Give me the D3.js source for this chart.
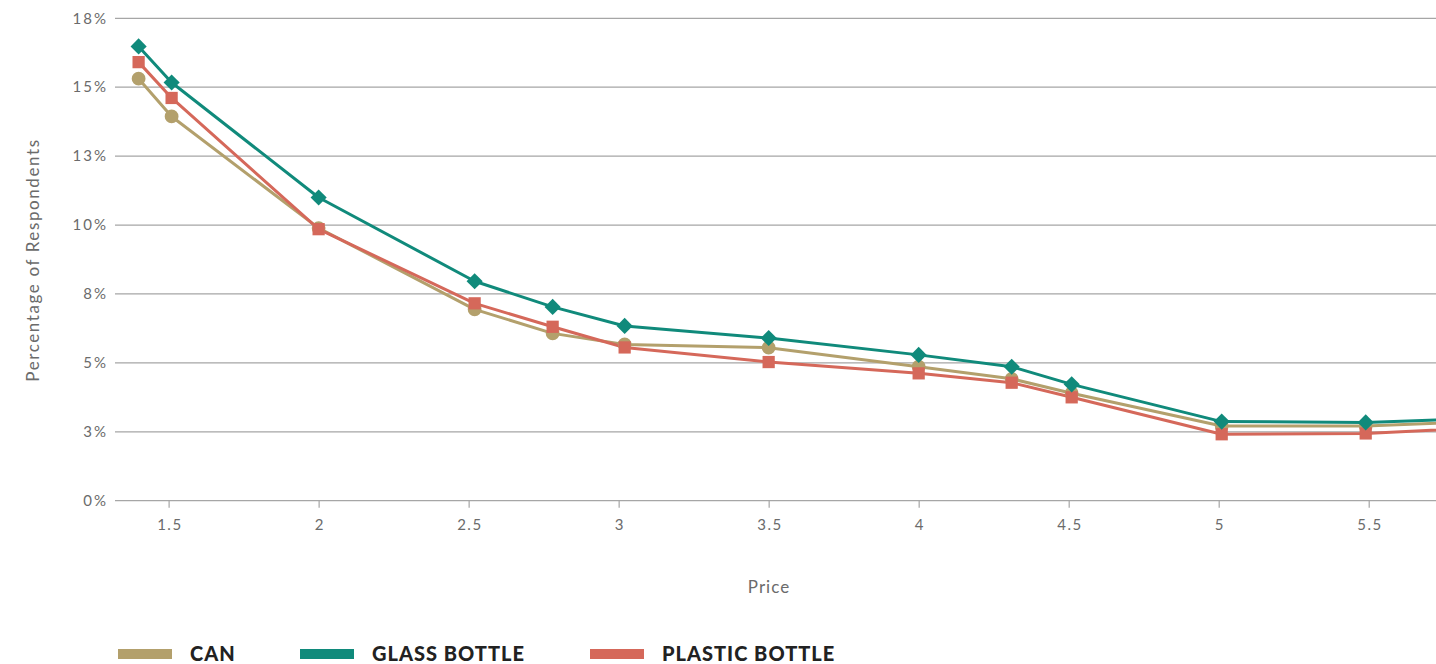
<!DOCTYPE html>
<html>
<head>
<meta charset="utf-8">
<script src="https://cdn.jsdelivr.net/npm/d3@7"></script>
<style>
  html, body { margin: 0; padding: 0; background: #fff; overflow: hidden; }
  svg { display: block; }
</style>
</head>
<body>
<svg id="chart" width="1436" height="664"></svg>
<script>
// ---- Data ----
const prices = [1.4, 1.51, 2.0, 2.52, 2.78, 3.02, 3.5, 4.0, 4.31, 4.51, 5.01, 5.49, 6.0];
const canValues     = [15.31, 13.94, 9.89, 6.94, 6.07, 5.67, 5.55, 4.86, 4.42, 3.90, 2.71, 2.71, 2.93];
const glassValues   = [16.48, 15.17, 11.00, 7.96, 7.03, 6.34, 5.90, 5.29, 4.86, 4.22, 2.87, 2.84, 3.04];
const plasticValues = [15.91, 14.61, 9.85, 7.16, 6.31, 5.56, 5.03, 4.62, 4.28, 3.75, 2.41, 2.44, 2.71];
const seriesNames = ["CAN", "GLASS BOTTLE", "PLASTIC BOTTLE"];
const seriesColors = ["#B3A06C", "#108A7B", "#D5685A"];
const seriesShapes = ["circle", "diamond", "square"];
const xTicks = [1.5, 2, 2.5, 3, 3.5, 4, 4.5, 5, 5.5];
const yTicks = [0, 2.5, 5, 7.5, 10, 12.5, 15, 17.5];

const seriesValues = [canValues, glassValues, plasticValues];

// ---- Layout ----
const svg = d3.select("#chart");
const plotLeft = 115, plotRight = 1436, plotTop = 18.3, plotBottom = 500.7;

const x = d3.scaleLinear().domain([1.3213, 5.7243]).range([plotLeft, plotRight]);
const y = d3.scaleLinear().domain([0, 17.5]).range([plotBottom, plotTop]);

const font = "Lato, 'Open Sans', sans-serif";

// gridlines
svg.append("g").selectAll("line").data(yTicks).join("line")
  .attr("x1", plotLeft).attr("x2", plotRight + 10)
  .attr("y1", d => y(d)).attr("y2", d => y(d))
  .attr("stroke", "#a6a6a6").attr("stroke-width", 1.2);

// y labels
svg.append("g").selectAll("text").data(yTicks).join("text")
  .attr("x", 108).attr("y", d => y(d)).attr("dy", "0.35em")
  .attr("text-anchor", "end")
  .attr("font-family", font).attr("font-size", 15).attr("letter-spacing", 2)
  .attr("fill", "#6b6b6b")
  .text(d => Math.round(d) + "%");

// x axis
const xAxis = d3.axisBottom(x).tickValues(xTicks).tickSize(7).tickPadding(12)
  .tickFormat(d => d3.format("")(d));
const gx = svg.append("g").attr("transform", `translate(0,${plotBottom})`).call(xAxis);
gx.select(".domain").remove();
gx.selectAll(".tick line").attr("stroke", "#a6a6a6").attr("stroke-width", 1.2);
gx.selectAll(".tick text").attr("font-family", font).attr("font-size", 15)
  .attr("letter-spacing", 1.5).attr("dx", 0.75).attr("fill", "#6b6b6b");

// axis titles
svg.append("text").attr("x", 769).attr("y", 593).attr("text-anchor", "middle")
  .attr("font-family", font).attr("font-size", 17).attr("letter-spacing", 1)
  .attr("fill", "#6b6b6b").text("Price");
svg.append("text").attr("transform", "translate(39,260) rotate(-90)")
  .attr("text-anchor", "middle")
  .attr("font-family", font).attr("font-size", 17).attr("letter-spacing", 1.6)
  .attr("fill", "#6b6b6b")
  .text("Percentage of Respondents");

// lines
const line = d3.line().x((d, i) => x(prices[i])).y(d => y(d));
const order = [0, 2, 1];
order.forEach(s => {
  svg.append("path").datum(seriesValues[s])
    .attr("fill", "none").attr("stroke", seriesColors[s]).attr("stroke-width", 3)
    .attr("stroke-linejoin", "round")
    .attr("d", line);
});

// markers
const symbolMap = {
  circle: d3.symbol().type(d3.symbolCircle).size(150),
  square: d3.symbol().type(d3.symbolSquare).size(150),
  diamond: d3.symbol().type(d3.symbolSquare).size(130)
};
order.forEach(s => {
  svg.append("g").selectAll("path").data(seriesValues[s]).join("path")
    .attr("d", symbolMap[seriesShapes[s]]())
    .attr("transform", (d, i) => `translate(${x(prices[i])},${y(d)})` + (seriesShapes[s] === "diamond" ? " rotate(45)" : ""))
    .attr("fill", seriesColors[s]);
});

// legend
const legendX = [118, 300, 590];
const lg = svg.append("g");
seriesNames.forEach((name, i) => {
  lg.append("rect").attr("x", legendX[i]).attr("y", 649).attr("width", 54).attr("height", 10)
    .attr("fill", seriesColors[i]);
  lg.append("text").attr("x", legendX[i] + 72).attr("y", 661)
    .attr("font-family", font).attr("font-weight", 900).attr("font-size", 20)
    .attr("letter-spacing", 1)
    .attr("fill", "#222").text(name);
});
</script>
</body>
</html>
